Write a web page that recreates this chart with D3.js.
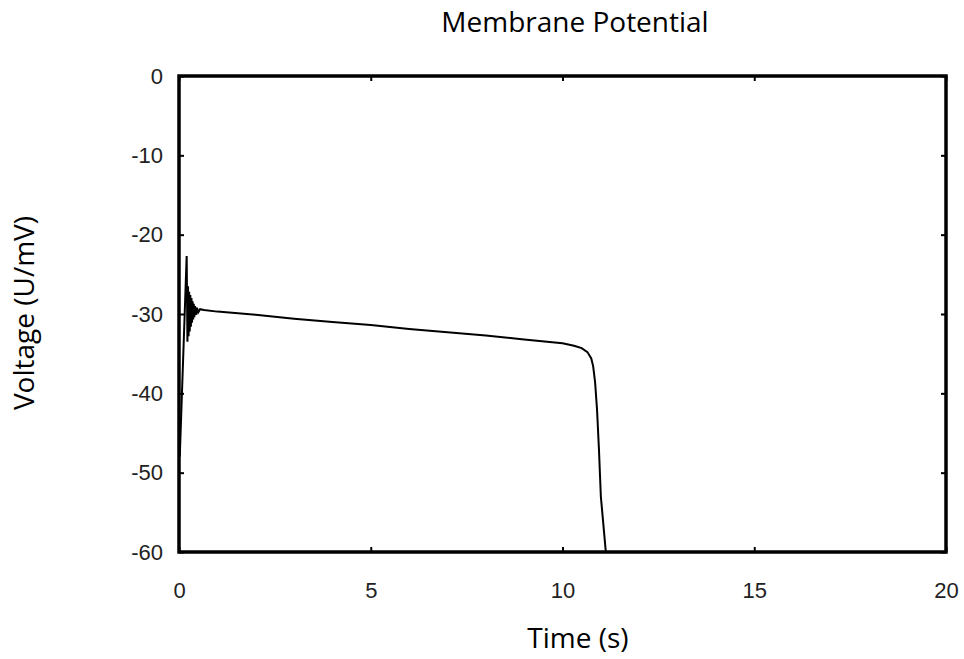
<!DOCTYPE html>
<html>
<head>
<meta charset="utf-8">
<script src="https://cdn.jsdelivr.net/npm/d3@7"></script>
<style>
  body { margin: 0; background: #fff; }
  .tick text { font-family: "Liberation Sans", sans-serif; font-size: 22px; fill: #222; }
  .title { font-family: "Open Sans", sans-serif; fill: #000; }
</style>
</head>
<body>
<svg></svg>
<script>
// membrane potential trace
let time =    [0.02, 0.2, 0.22, 0.235, 0.25, 0.265, 0.28, 0.295, 0.31, 0.325, 0.34, 0.355, 0.37, 0.385, 0.40, 0.42, 0.44, 0.47, 0.5, 0.55, 0.65,
               1, 2, 3, 4, 5, 6, 7, 8, 9, 10, 10.3, 10.5, 10.65, 10.75, 10.8, 10.85, 10.9, 10.95, 11.0, 11.13, 11.2]
let voltage = [-48, -22.7, -33.5, -26.5, -32.8, -27.2, -32.2, -27.6, -31.6, -28.0, -31.1, -28.4, -30.7, -28.7, -30.4, -29.0, -30.1, -29.2, -29.8, -29.4, -29.5,
               -29.7, -30.1, -30.6, -31.0, -31.4, -31.9, -32.3, -32.7, -33.2, -33.7, -34.0, -34.3, -34.8, -35.6, -36.6, -38.6, -42, -47, -53, -60, -64]

let xTicks = [0, 5, 10, 15, 20]
let yTicks = [0, -10, -20, -30, -40, -50, -60]

let width = 964
let height = 659
let plotLeft = 179
let plotRight = 946
let plotTop = 76
let plotBottom = 552

let svg = d3.select('svg')
    .attr('width', width)
    .attr('height', height)

let xScale = d3.scaleLinear().domain([0, 20]).range([plotLeft, plotRight])
let yScale = d3.scaleLinear().domain([-60, 0]).range([plotBottom, plotTop])

let xAxis = d3.axisBottom(xScale).tickValues(xTicks).tickSizeInner(-5).tickSizeOuter(0).tickPadding(30)
let yAxis = d3.axisLeft(yScale).tickValues(yTicks).tickSizeInner(-5).tickSizeOuter(0).tickPadding(16)
    .tickFormat(d => d < 0 ? '-' + Math.abs(d) : d)

let styleAxis = (g) => {
    g.select('.domain').remove()
    g.selectAll('.tick line').attr('stroke', '#000').attr('stroke-width', 2)
}

svg.append('g')
    .attr('transform', 'translate(0,' + plotBottom + ')')
    .call(xAxis)
    .call(styleAxis)

svg.append('g')
    .attr('transform', 'translate(' + plotLeft + ',0)')
    .call(yAxis)
    .call(styleAxis)

// mirrored ticks on top and right
svg.append('g')
    .attr('transform', 'translate(0,' + plotTop + ')')
    .call(d3.axisTop(xScale).tickValues(xTicks).tickSizeInner(-5).tickSizeOuter(0).tickFormat(''))
    .call(styleAxis)

svg.append('g')
    .attr('transform', 'translate(' + plotRight + ',0)')
    .call(d3.axisRight(yScale).tickValues(yTicks).tickSizeInner(-5).tickSizeOuter(0).tickFormat(''))
    .call(styleAxis)

svg.append('clipPath')
    .attr('id', 'clip')
    .append('rect')
    .attr('x', plotLeft)
    .attr('y', plotTop)
    .attr('width', plotRight - plotLeft)
    .attr('height', plotBottom - plotTop)

let line = d3.line()
    .x((d, i) => xScale(time[i]))
    .y(d => yScale(d))

svg.append('path')
    .datum(voltage)
    .attr('clip-path', 'url(#clip)')
    .attr('fill', 'none')
    .attr('stroke', '#000')
    .attr('stroke-width', 2)
    .attr('d', line)

svg.append('rect')
    .attr('x', plotLeft)
    .attr('y', plotTop)
    .attr('width', plotRight - plotLeft)
    .attr('height', plotBottom - plotTop)
    .attr('fill', 'none')
    .attr('stroke', '#000')
    .attr('stroke-width', 3.5)

svg.append('text')
    .attr('class', 'title')
    .attr('x', 575)
    .attr('y', 32)
    .attr('text-anchor', 'middle')
    .attr('font-size', 28)
    .text('Membrane Potential')

svg.append('text')
    .attr('class', 'title')
    .attr('x', 578)
    .attr('y', 648)
    .attr('text-anchor', 'middle')
    .attr('font-size', 28)
    .text('Time (s)')

svg.append('text')
    .attr('class', 'title')
    .attr('transform', 'translate(34,313) rotate(-90)')
    .attr('text-anchor', 'middle')
    .attr('font-size', 28)
    .text('Voltage (U/mV)')
</script>
</body>
</html>
